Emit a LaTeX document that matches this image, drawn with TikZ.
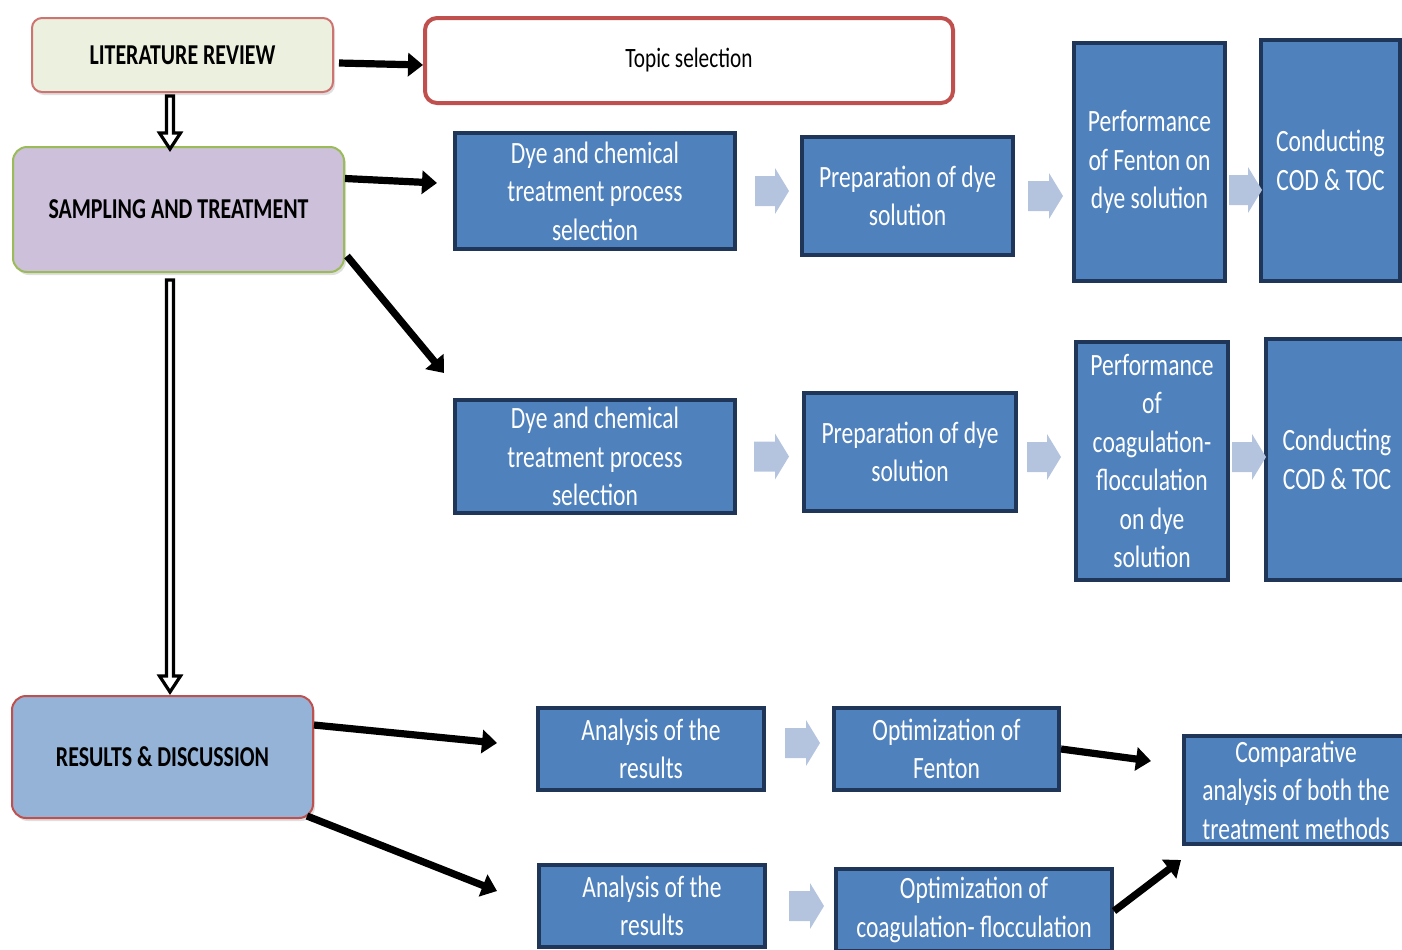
\documentclass[tikz,border=0pt]{standalone}
\usepackage{fontspec}
\setmainfont[FakeStretch=0.76]{Carlito}
\usetikzlibrary{arrows.meta,calc,shadows}
\definecolor{boxblue}{HTML}{4F81BD}
\definecolor{boxedge}{HTML}{1F3658}
\definecolor{lightarr}{RGB}{180,196,222}
\definecolor{litfill}{HTML}{EBF1DE}
\definecolor{redge}{HTML}{C0504D}
\definecolor{sampfill}{HTML}{CCC0DA}
\definecolor{sampedge}{HTML}{9BBB59}
\definecolor{resfill}{HTML}{95B3D7}
\newcommand{\hollowdown}[2]{\draw[hollowarr] let \p1=(#1), \p2=(#2) in
  (\x1-1.75pt,\y1) -- (\x1+1.75pt,\y1) -- (\x1+1.75pt,\y2+8pt) -- (\x1+5.25pt,\y2+8pt)
  -- (\x1,\y2) -- (\x1-5.25pt,\y2+8pt) -- (\x1-1.75pt,\y2+8pt) -- cycle;}
\newcommand{\blockarr}[2]{\fill[lightarr] let \p1=(#1), \p2=(#2) in
  (\x1,\y1-7.5pt) -- (\x2-7pt,\y1-7.5pt) -- (\x2-7pt,\y1-11.5pt) -- (\x2,\y1)
  -- (\x2-7pt,\y1+11.5pt) -- (\x2-7pt,\y1+7.5pt) -- (\x1,\y1+7.5pt) -- cycle;}
\begin{document}
\begin{tikzpicture}[x=0.5pt,y=-0.5pt,
  headbox/.style={font=\fontsize{14.4}{17}\selectfont\bfseries, inner sep=0pt, line width=1pt,
    drop shadow={opacity=0.25,shadow xshift=1pt,shadow yshift=-1.5pt}},
  bluebox/.style={fill=boxblue, draw=boxedge, line width=2pt, text=white, align=center,
    inner sep=0pt, font=\fontsize{15.5}{19.25}\selectfont},
  blackarr/.style={line width=3.6pt, -{Triangle[length=7.5pt,width=11.5pt]}},
  hollowarr/.style={draw=black, fill=white, line width=1.6pt}]
\useasboundingbox (0,0) rectangle (1402,949);
\clip (0,0) rectangle (1402,949);

% left column
\node[headbox, fill=litfill, draw=redge!80, rounded corners=5pt,
  minimum width=150.5pt, minimum height=37pt] (lit) at (182.5,55) {LITERATURE REVIEW};
\node[headbox, fill=sampfill, draw=sampedge, rounded corners=7pt,
  minimum width=165.5pt, minimum height=62.5pt] (samp) at (178.5,209.5) {SAMPLING AND TREATMENT};
\node[headbox, fill=resfill, draw=redge, rounded corners=7pt,
  minimum width=150.5pt, minimum height=61pt] (res) at (162.5,757) {RESULTS \& DISCUSSION};

\node[draw=redge, line width=2pt, fill=white, rounded corners=6pt, inner sep=0pt,
  minimum width=264pt, minimum height=42.5pt, font=\fontsize{14}{17}\selectfont] (topic) at (689,60.5) {Topic selection};

% blue boxes
\node[bluebox, minimum width=140pt, minimum height=58pt] (b1) at (595,191) {Dye and chemical\\treatment process\\selection};
\node[bluebox, minimum width=105.5pt, minimum height=59pt] (b2) at (907.5,196) {Preparation of dye\\solution};
\node[bluebox, minimum width=75.5pt, minimum height=119pt] (b3) at (1149.5,162) {Performance\\of Fenton on\\dye solution};
\node[bluebox, minimum width=69.5pt, minimum height=120.5pt] (b4) at (1330.5,160.5) {Conducting\\COD \& TOC};

\node[bluebox, minimum width=140pt, minimum height=56.5pt] (b5) at (595,456.5) {Dye and chemical\\treatment process\\selection};
\node[bluebox, minimum width=106pt, minimum height=59pt] (b6) at (910,452) {Preparation of dye\\solution};
\node[bluebox, minimum width=76pt, minimum height=119pt] (b7) at (1152,461) {Performance\\of\\coagulation-\\flocculation\\on dye\\solution};
\node[bluebox, minimum width=71pt, minimum height=120.5pt] (b8) at (1337,459.5) {Conducting\\COD \& TOC};

\node[bluebox, minimum width=113pt, minimum height=41pt] (b9) at (651,749) {Analysis of the\\results};
\node[bluebox, minimum width=112.5pt, minimum height=41pt] (b10) at (946.5,749) {Optimization of\\Fenton};
\node[bluebox, minimum width=112pt, minimum height=54pt] (b11) at (1296,790) {Comparative\\analysis of both the\\treatment methods};
\node[bluebox, minimum width=113pt, minimum height=41pt] (b12) at (652,906) {Analysis of the\\results};
\node[bluebox, minimum width=138pt, minimum height=41pt] (b13) at (974,910) {Optimization of\\coagulation- flocculation};

% hollow arrows
\hollowdown{$(lit.south)+(-12.5,3)$}{$(samp.north)+(-8.5,3)$}
\hollowdown{$(samp.south)+(-8.5,7)$}{$(res.north)+(7.5,-3)$}

% black arrows
\draw[blackarr] ($(lit.east)+(5,8)$) -- ($(topic.west)+(0,4.5)$);
\draw[blackarr] ($(samp.east)+(0,-31)$) -- ($(b1.west)+(-16,-8)$);
\draw[blackarr] ($(samp.south east)+(2,-17)$) -- ($(b5.north west)+(-9,-25)$);
\draw[blackarr] ($(res.north east)+(0,30)$) -- ($(b9.west)+(-39,-6)$);
\draw[blackarr] ($(res.south east)+(-7,-3)$) -- ($(b12.west)+(-40,-15)$);
\draw[blackarr] (b10.east) -- ($(b11.west)+(-31,-29)$);
\draw[blackarr] ($(b13.north east)+(0,44)$) -- ($(b11.south west)+(-1,14)$);

% light block arrows
\blockarr{$(b1.east)+(18,0)$}{$(b2.west)+(-11,0)$}
\blockarr{$(b2.east)+(13,0)$}{$(b3.west)+(-9,0)$}
\blockarr{$(b3.east)+(2,28)$}{$(b4.west)+(3,0)$}
\blockarr{$(b5.east)+(17,0)$}{$(b6.west)+(-13,0)$}
\blockarr{$(b6.east)+(9,5)$}{$(b7.west)+(-13,0)$}
\blockarr{$(b7.east)+(2,-4)$}{$(b8.west)+(2,0)$}
\blockarr{$(b9.east)+(19,-6)$}{$(b10.west)+(-12,0)$}
\blockarr{$(b12.east)+(22,0)$}{$(b13.west)+(-10,0)$}
\end{tikzpicture}
\end{document}
